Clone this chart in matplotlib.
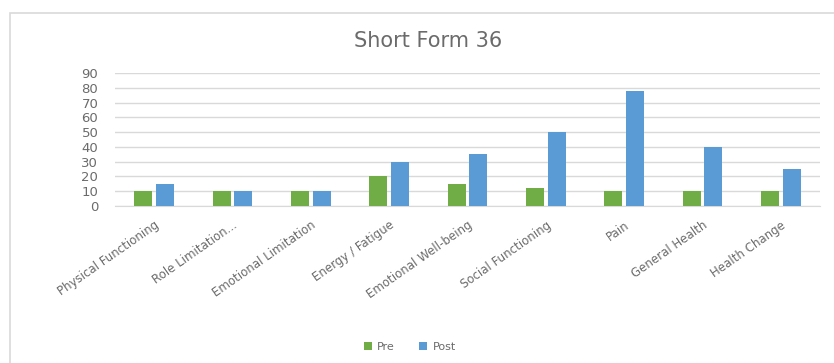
import matplotlib.pyplot as plt
import numpy as np
from matplotlib.patches import Rectangle

categories = ['Physical Functioning', 'Role Limitation...', 'Emotional Limitation',
              'Energy / Fatigue', 'Emotional Well-being', 'Social Functioning',
              'Pain', 'General Health', 'Health Change']
pre = [10, 10, 10, 20, 15, 12, 10, 10, 10]
post = [15, 10, 10, 30, 35, 50, 78, 40, 25]
yticks = list(range(0, 100, 10))

W, H = 834, 363
plt.rcParams['font.family'] = ['DejaVu Sans']
text_color = '#6b6b6b'

fig = plt.figure(figsize=(W / 100, H / 100), dpi=100)
# chart border (only left and top edges are visible)
fig.patches.append(Rectangle((10 / W, -0.1), 1.2, 1 - 13 / H + 0.1, transform=fig.transFigure,
                             fill=False, edgecolor='#D9D9D9', linewidth=1.2))

ax = fig.add_axes([115 / W, 1 - 206 / H, (820 - 115) / W, (206 - 73) / H])
x = np.arange(len(categories))
bw = 0.23
ax.bar(x - 0.14, pre, bw, color='#70AD47', label='Pre', zorder=3)
ax.bar(x + 0.14, post, bw, color='#5B9BD5', label='Post', zorder=3)

ax.set_xlim(-0.5, len(categories) - 0.5)
ax.set_ylim(0, 90)
ax.set_yticks(yticks)
ax.yaxis.grid(True, color='#D9D9D9', linewidth=1, zorder=0)
for s in ['top', 'right', 'left']:
    ax.spines[s].set_visible(False)
ax.spines['bottom'].set_color('#D9D9D9')
ax.tick_params(axis='both', length=0, colors=text_color)
ax.tick_params(axis='y', pad=12, labelsize=9.5)
ax.tick_params(axis='x', pad=9)
ax.set_xticks(x)
ax.set_xticklabels(categories, rotation=35, ha='right', rotation_mode='anchor', fontsize=8.5)

fig.text(428 / W, 1 - 41 / H, 'Short Form 36', ha='center', va='center',
         fontsize=15, color=text_color)
fig.legend(loc='center', bbox_to_anchor=(410 / W, 1 - 347 / H), ncol=2, frameon=False,
           fontsize=8, labelcolor=text_color, handlelength=0.7, handleheight=0.7,
           columnspacing=2.2, handletextpad=0.5)

fig.savefig('out.png', dpi=100)
